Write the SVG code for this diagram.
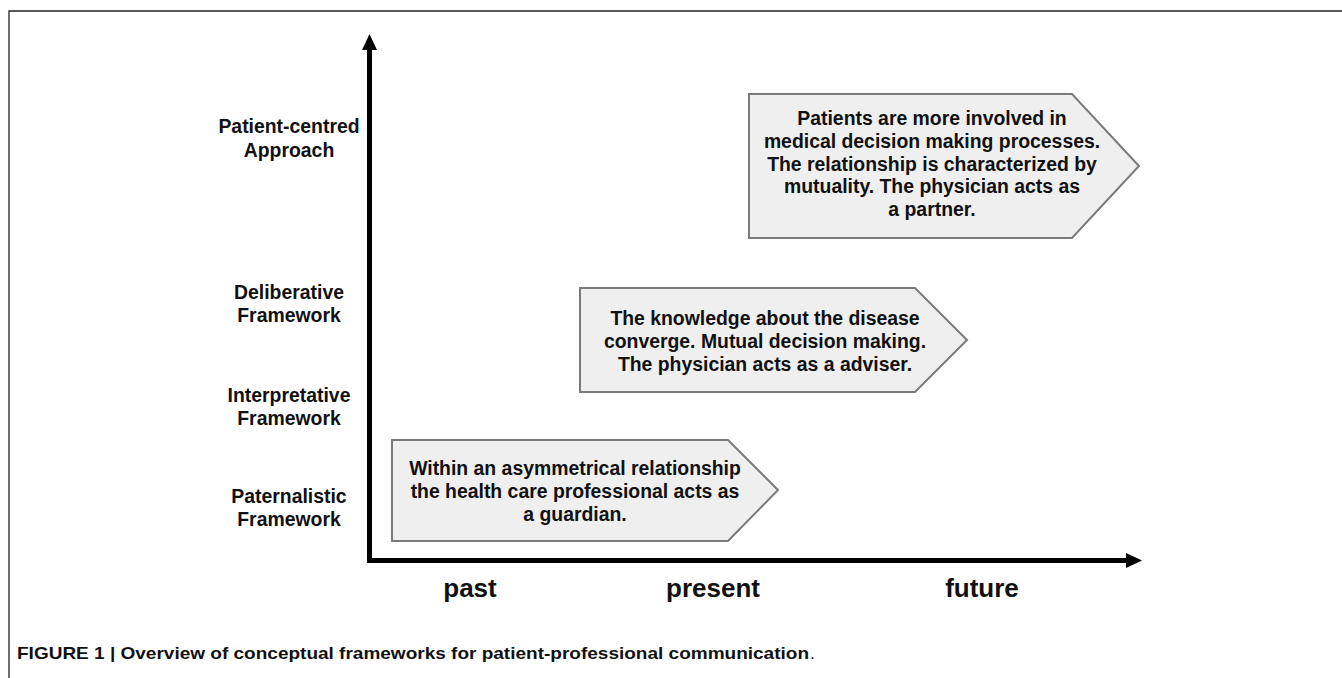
<svg xmlns="http://www.w3.org/2000/svg" width="1342" height="678" viewBox="0 0 1342 678">
  <style>
    .frame { fill: none; stroke: #222; stroke-width: 1.3; }
    .axis { fill: none; stroke: #000; stroke-width: 5; stroke-linejoin: miter; }
    .box { fill: #efefef; stroke: #7a7a7a; stroke-width: 2; stroke-linejoin: miter; }
    .t { font-family: "Liberation Sans", Arial, sans-serif; font-weight: bold; font-size: 19.4px; fill: #111; text-anchor: middle; }
    .lab { font-family: "Liberation Sans", Arial, sans-serif; font-weight: bold; font-size: 19.4px; fill: #111; text-anchor: middle; }
    .time { font-family: "Liberation Sans", Arial, sans-serif; font-weight: bold; font-size: 26px; fill: #111; text-anchor: middle; }
    .cap { font-family: "Liberation Sans", Arial, sans-serif; font-size: 17px; fill: #111; }
  </style>
  <defs>
    <marker id="head" markerUnits="userSpaceOnUse" markerWidth="17" markerHeight="16" viewBox="0 0 17 16" refX="1" refY="7.5" orient="auto-start-reverse">
      <path d="M0,0 L16,7.5 L0,15 z" fill="#000"/>
    </marker>
  </defs>

  <rect width="1342" height="678" fill="#fff"/>
  <!-- figure frame: top and left rules -->
  <path class="frame" d="M9,678 L9,11 L1342,11"/>

  <!-- axes -->
  <g id="connectors">
    <path class="axis" d="M369.5,49 L369.5,560.5 L1127,560.5" marker-start="url(#head)" marker-end="url(#head)"/>
  </g>

  <!-- level labels on the vertical axis -->
  <g id="label-patient-centred">
    <text class="lab" x="289" y="133">Patient-centred</text>
    <text class="lab" x="289" y="157">Approach</text>
  </g>
  <g id="label-deliberative">
    <text class="lab" x="289" y="299">Deliberative</text>
    <text class="lab" x="289" y="322">Framework</text>
  </g>
  <g id="label-interpretative">
    <text class="lab" x="289" y="402">Interpretative</text>
    <text class="lab" x="289" y="425">Framework</text>
  </g>
  <g id="label-paternalistic">
    <text class="lab" x="289" y="503">Paternalistic</text>
    <text class="lab" x="289" y="526">Framework</text>
  </g>

  <!-- time labels -->
  <g id="time-labels">
    <text class="time" x="470" y="597">past</text>
    <text class="time" x="713" y="597">present</text>
    <text class="time" x="982" y="597">future</text>
  </g>

  <!-- pentagon arrows -->
  <g id="node-partner">
    <polygon class="box" points="749,94 1072,94 1139,166 1072,238 749,238"/>
    <text class="t" x="932" y="125">Patients are more involved in</text>
    <text class="t" x="932" y="148">medical decision making processes.</text>
    <text class="t" x="932" y="171">The relationship is characterized by</text>
    <text class="t" x="932" y="193">mutuality. The physician acts as</text>
    <text class="t" x="932" y="216">a partner.</text>
  </g>
  <g id="node-adviser">
    <polygon class="box" points="580,288 915,288 967,340 915,392 580,392"/>
    <text class="t" x="765" y="325">The knowledge about the disease</text>
    <text class="t" x="765" y="348">converge. Mutual decision making.</text>
    <text class="t" x="765" y="371">The physician acts as a adviser.</text>
  </g>
  <g id="node-guardian">
    <polygon class="box" points="392,440 728,440 778,490 728,541 392,541"/>
    <text class="t" x="575" y="475">Within an asymmetrical relationship</text>
    <text class="t" x="575" y="498">the health care professional acts as</text>
    <text class="t" x="575" y="521">a guardian.</text>
  </g>

  <!-- caption -->
  <g id="caption">
    <text class="cap" x="17" y="659" font-weight="bold" textLength="792" lengthAdjust="spacingAndGlyphs">FIGURE 1 | Overview of conceptual frameworks for patient-professional communication</text>
    <text class="cap" x="810" y="659">.</text>
  </g>
</svg>
